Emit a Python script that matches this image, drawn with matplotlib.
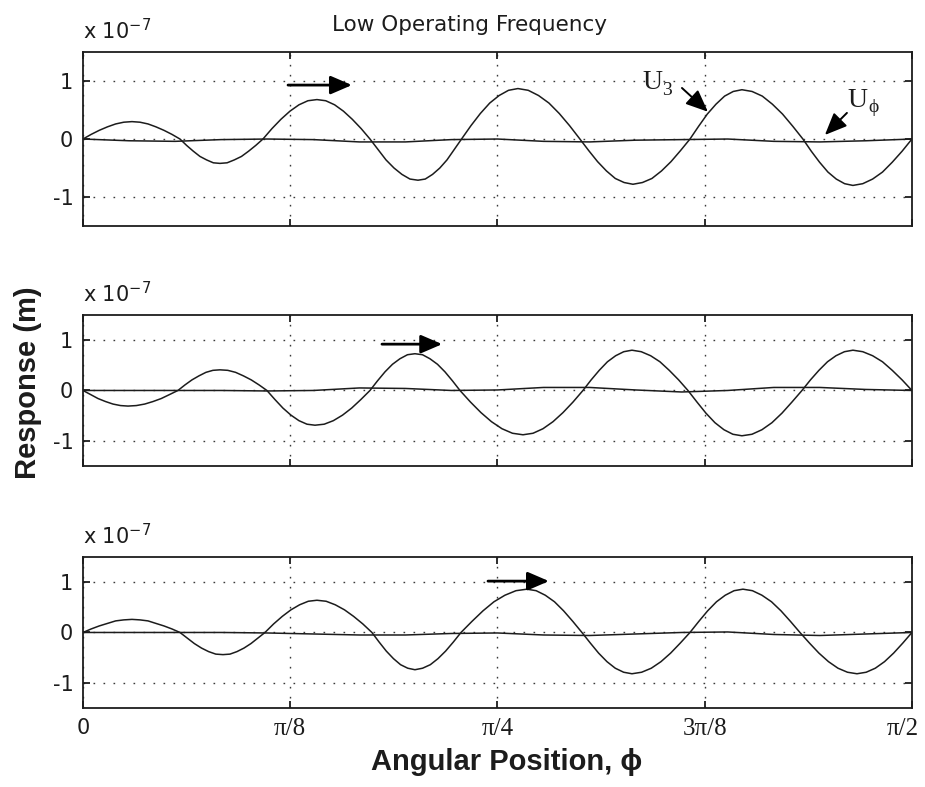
import matplotlib
matplotlib.use("Agg")
import matplotlib.pyplot as plt
from matplotlib.transforms import ScaledTranslation

plt.rcParams["mathtext.default"] = "regular"

# Angular position in degrees (0 .. 90 corresponds to 0 .. pi/2),
# responses in units of 1e-7 m.
phi_u3_top = [0,
              0.89, 1.77, 2.66, 3.55, 4.43, 5.32, 6.19, 7.06, 7.92, 8.79, 9.66, 10.53,
              11.25, 11.98, 12.70, 13.42, 14.15, 14.87, 15.65, 16.43, 17.21, 17.98, 18.76, 19.54,
              20.52, 21.49, 22.47, 23.45, 24.42, 25.40, 26.36, 27.32, 28.28, 29.24, 30.20, 31.16,
              32.03, 32.90, 33.77, 34.63, 35.50, 36.37, 37.16, 37.95, 38.74, 39.52, 40.31, 41.10,
              42.12, 43.14, 44.16, 45.18, 46.20, 47.22, 48.34, 49.46, 50.59, 51.71, 52.83, 53.95,
              54.91, 55.87, 56.83, 57.79, 58.75, 59.71, 60.74, 61.77, 62.81, 63.84, 64.87, 65.90,
              66.84, 67.78, 68.72, 69.66, 70.60, 71.54, 72.64, 73.75, 74.85, 75.95, 77.06, 78.16,
              79.07, 79.97, 80.88, 81.78, 82.69, 83.59, 84.66, 85.73, 86.80, 87.86, 88.93, 90.0]
u3_top = [0,
          0.08, 0.15, 0.21, 0.26, 0.29, 0.30, 0.29, 0.26, 0.21, 0.15, 0.08, 0,
          -0.11, -0.21, -0.30, -0.36, -0.41, -0.42, -0.41, -0.36, -0.30, -0.21, -0.11, 0,
          0.18, 0.34, 0.48, 0.59, 0.66, 0.68, 0.66, 0.59, 0.48, 0.34, 0.18, 0,
          -0.18, -0.36, -0.50, -0.61, -0.69, -0.71, -0.69, -0.61, -0.50, -0.36, -0.18, 0,
          0.23, 0.44, 0.62, 0.75, 0.84, 0.87, 0.84, 0.75, 0.62, 0.44, 0.23, 0,
          -0.20, -0.39, -0.55, -0.68, -0.75, -0.78, -0.75, -0.68, -0.55, -0.39, -0.20, 0,
          0.22, 0.43, 0.60, 0.74, 0.82, 0.85, 0.82, 0.74, 0.60, 0.43, 0.22, 0,
          -0.21, -0.40, -0.57, -0.69, -0.77, -0.80, -0.77, -0.69, -0.57, -0.40, -0.21, 0]

phi_u3_mid = [0,
              0.82, 1.63, 2.45, 3.26, 4.08, 4.89, 5.79, 6.70, 7.60, 8.50, 9.41, 10.31,
              11.07, 11.83, 12.59, 13.35, 14.11, 14.87, 15.72, 16.57, 17.42, 18.27, 19.12, 19.97,
              20.84, 21.71, 22.58, 23.45, 24.32, 25.19, 26.19, 27.18, 28.18, 29.17, 30.17, 31.16,
              31.97, 32.79, 33.60, 34.41, 35.23, 36.04, 36.86, 37.67, 38.49, 39.30, 40.12, 40.93,
              42.07, 43.21, 44.35, 45.49, 46.63, 47.77, 48.86, 49.94, 51.03, 52.11, 53.20, 54.28,
              55.17, 56.05, 56.94, 57.83, 58.71, 59.60, 60.61, 61.63, 62.64, 63.65, 64.67, 65.68,
              66.66, 67.63, 68.61, 69.59, 70.56, 71.54, 72.63, 73.71, 74.80, 75.89, 76.97, 78.06,
              78.98, 79.90, 80.83, 81.75, 82.67, 83.59, 84.66, 85.73, 86.80, 87.86, 88.93, 90.0]
u3_mid = [0,
          -0.08, -0.16, -0.22, -0.27, -0.30, -0.31, -0.30, -0.27, -0.22, -0.16, -0.08, 0,
          0.11, 0.21, 0.29, 0.36, 0.40, 0.41, 0.40, 0.36, 0.29, 0.21, 0.11, 0,
          -0.18, -0.35, -0.49, -0.60, -0.67, -0.69, -0.67, -0.60, -0.49, -0.35, -0.18, 0,
          0.19, 0.37, 0.52, 0.63, 0.71, 0.73, 0.71, 0.63, 0.52, 0.37, 0.19, 0,
          -0.23, -0.44, -0.62, -0.76, -0.85, -0.88, -0.85, -0.76, -0.62, -0.44, -0.23, 0,
          0.21, 0.40, 0.57, 0.69, 0.77, 0.80, 0.77, 0.69, 0.57, 0.40, 0.21, 0,
          -0.23, -0.45, -0.64, -0.78, -0.87, -0.90, -0.87, -0.78, -0.64, -0.45, -0.23, 0,
          0.21, 0.40, 0.57, 0.69, 0.77, 0.80, 0.77, 0.69, 0.57, 0.40, 0.21, 0]

phi_u3_bot = [0,
              0.89, 1.77, 2.66, 3.55, 4.43, 5.32, 6.19, 7.06, 7.92, 8.79, 9.66, 10.53,
              11.31, 12.09, 12.87, 13.64, 14.42, 15.20, 15.96, 16.72, 17.48, 18.24, 19.00, 19.76,
              20.70, 21.64, 22.58, 23.52, 24.46, 25.40, 26.40, 27.39, 28.39, 29.38, 30.38, 31.37,
              32.15, 32.93, 33.71, 34.48, 35.26, 36.04, 36.87, 37.71, 38.54, 39.37, 40.21, 41.04,
              42.23, 43.43, 44.62, 45.81, 47.01, 48.20, 49.20, 50.19, 51.19, 52.18, 53.18, 54.17,
              55.08, 55.98, 56.89, 57.79, 58.70, 59.60, 60.65, 61.70, 62.75, 63.80, 64.85, 65.90,
              66.86, 67.82, 68.78, 69.73, 70.69, 71.65, 72.68, 73.71, 74.75, 75.78, 76.81, 77.84,
              78.87, 79.90, 80.94, 81.97, 83.00, 84.03, 85.03, 86.02, 87.02, 88.01, 89.01, 90.0]
u3_bot = [0,
          0.07, 0.13, 0.18, 0.23, 0.25, 0.26, 0.25, 0.23, 0.18, 0.13, 0.07, 0,
          -0.11, -0.22, -0.31, -0.38, -0.43, -0.44, -0.43, -0.38, -0.31, -0.22, -0.11, 0,
          0.17, 0.32, 0.45, 0.55, 0.62, 0.64, 0.62, 0.55, 0.45, 0.32, 0.17, 0,
          -0.19, -0.37, -0.52, -0.64, -0.71, -0.74, -0.71, -0.64, -0.52, -0.37, -0.19, 0,
          0.22, 0.43, 0.61, 0.74, 0.83, 0.86, 0.83, 0.74, 0.61, 0.43, 0.22, 0,
          -0.21, -0.41, -0.58, -0.71, -0.79, -0.82, -0.79, -0.71, -0.58, -0.41, -0.21, 0,
          0.22, 0.43, 0.61, 0.74, 0.83, 0.86, 0.83, 0.74, 0.61, 0.43, 0.22, 0,
          -0.21, -0.41, -0.58, -0.71, -0.79, -0.82, -0.79, -0.71, -0.58, -0.41, -0.21, 0]

phi_uphi = [0, 5, 10, 15, 20, 25, 30, 35, 40, 45, 50, 55, 60, 65, 70, 75, 80, 85, 90]
uphi_top = [0, -0.03, -0.04, -0.01, 0, -0.01, -0.05, -0.05, -0.01, 0,
            -0.04, -0.05, -0.02, -0.01, 0, -0.04, -0.05, -0.03, 0]
uphi_mid = [0, 0, 0, 0, -0.01, 0, 0.05, 0.04, 0, 0.01,
            0.06, 0.06, 0.01, -0.03, 0, 0.06, 0.06, 0.02, 0]
uphi_bot = [0, 0, 0, 0, -0.01, -0.03, -0.05, -0.05, -0.02, -0.01,
            -0.05, -0.06, -0.03, 0, 0.01, -0.04, -0.06, -0.03, 0]

xtick_pos = [0, 22.5, 45, 67.5, 90]
xtick_labels = ["0", "π/8", "π/4", "3π/8", "π/2"]
ytick_pos = [-1, 0, 1]
ytick_labels = ["-1", "0", "1"]

title = "Low Operating Frequency"
xlabel = "Angular Position, ϕ"
ylabel = "Response (m)"
scale_note = "x 10$^{-7}$"

panels = [
    (phi_u3_top, u3_top, uphi_top),
    (phi_u3_mid, u3_mid, uphi_mid),
    (phi_u3_bot, u3_bot, uphi_bot),
]
rects = [
    (0.0897, 0.7128, 0.8962, 0.2211),
    (0.0897, 0.4079, 0.8962, 0.1919),
    (0.0897, 0.1004, 0.8962, 0.1919),
]

SANS = ["DejaVu Sans"]
SERIF = ["Liberation Serif", "DejaVu Serif"]
BOLD = ["Liberation Sans", "DejaVu Sans"]
INK = "#1c1c1c"

fig = plt.figure(figsize=(9.25, 7.87), dpi=100)
axes = []
for i, ((phi, u3, uphi), rect) in enumerate(zip(panels, rects)):
    ax = fig.add_axes(rect)
    axes.append(ax)
    ax.plot(phi_uphi, uphi, color=INK, lw=1.1, zorder=3)
    ax.plot(phi, u3, color=INK, lw=1.1, zorder=3)
    ax.set_xlim(0, 90)
    ax.set_ylim(-1.5, 1.5)
    ax.set_xticks(xtick_pos)
    ax.set_yticks(ytick_pos)
    ax.set_yticklabels(ytick_labels, fontfamily=SANS, fontsize=15)
    ax.grid(True, color="#3a3a3a", linestyle=(0, (1.2, 6)), lw=1.0)
    ax.tick_params(direction="in", length=5, width=1.3, top=True, right=True,
                   colors=INK, pad=7)
    for sp in ax.spines.values():
        sp.set_linewidth(1.3)
        sp.set_color(INK)
    if i < 2:
        ax.tick_params(labelbottom=False)
    else:
        labs = ax.set_xticklabels(xtick_labels, fontfamily=SERIF, fontsize=18)
        labs[0].set_fontfamily(SANS)
        labs[0].set_fontsize(15)
        labs[-1].set_transform(labs[-1].get_transform() +
                               ScaledTranslation(-0.09, 0, fig.dpi_scale_trans))
    ax.annotate(scale_note, xy=(0, 1), xycoords="axes fraction",
                xytext=(0, 9), textcoords="offset points",
                ha="left", va="baseline", fontsize=15, fontfamily=SANS, color=INK)

# direction-of-travel arrows
travel_arrows = [((22.26, 0.93), (29.20, 0.93)),
                 ((32.46, 0.92), (39.00, 0.92)),
                 ((43.97, 1.02), (50.59, 1.02))]
for ax, (tail, tip) in zip(axes, travel_arrows):
    ax.annotate("", xy=tip, xytext=tail,
                arrowprops=dict(arrowstyle="-|>,head_length=0.65,head_width=0.28",
                                mutation_scale=20, lw=2.0, color="black",
                                shrinkA=0, shrinkB=0), zorder=5)

# curve labels on the first panel
top = axes[0]
top.text(60.7, 0.86, "U", fontfamily=SERIF, fontsize=20, color=INK,
         ha="left", va="baseline", zorder=5)
top.text(62.9, 0.76, "3", fontfamily=SERIF, fontsize=14, color=INK,
         ha="left", va="baseline", zorder=5)
top.annotate("", xy=(67.85, 0.47), xytext=(65.03, 0.88),
             arrowprops=dict(arrowstyle="-|>,head_length=0.75,head_width=0.32",
                             mutation_scale=18, lw=1.4, color="black",
                             shrinkA=0, shrinkB=0), zorder=5)
top.text(83.05, 0.55, "U", fontfamily=SERIF, fontsize=20, color=INK,
         ha="left", va="baseline", zorder=5)
top.text(85.3, 0.46, "ϕ", fontfamily=SERIF, fontsize=14, color=INK,
         ha="left", va="baseline", zorder=5)
top.annotate("", xy=(80.55, 0.07), xytext=(82.94, 0.45),
             arrowprops=dict(arrowstyle="-|>,head_length=0.75,head_width=0.32",
                             mutation_scale=18, lw=1.4, color="black",
                             shrinkA=0, shrinkB=0), zorder=5)

fig.text(470 / 925, 1 - 31 / 787, title, fontfamily=SANS, fontsize=15.5,
         ha="center", va="baseline", color=INK)
fig.text(507 / 925, 1 - 770 / 787, xlabel, fontfamily=BOLD, fontweight="bold",
         fontsize=21, ha="center", va="baseline", color=INK)
fig.text(28 / 925, 1 - 383 / 787, ylabel, fontfamily=BOLD, fontweight="bold",
         fontsize=21, ha="center", va="center", rotation=90, color=INK)

fig.savefig("out.png", dpi=100, facecolor="white")
